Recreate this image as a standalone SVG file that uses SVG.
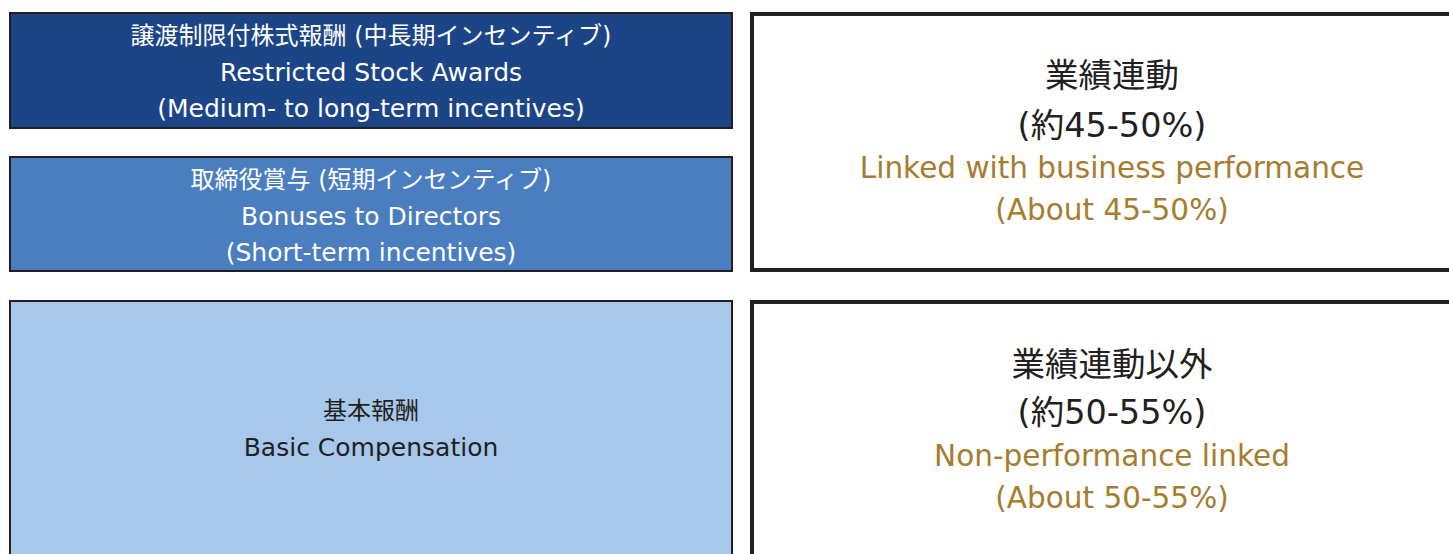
<svg xmlns="http://www.w3.org/2000/svg" width="1449" height="554" viewBox="0 0 1449 554">
<style>
.box{stroke:#231f20;stroke-width:2}
.rbox{fill:#ffffff;stroke:#231f20;stroke-width:4}
text{font-family:"DejaVu Sans","Noto Sans CJK JP",sans-serif;text-anchor:middle}
.w{fill:#ffffff;font-size:25px}
.wj{fill:#ffffff;font-size:24px}
.k{fill:#231f20;font-size:25px}
.kj{fill:#231f20;font-size:24px}
.bk{fill:#231f20;font-size:33.5px}
.gd{fill:#a67c2e;font-size:29.5px}
</style>
<rect width="1449" height="554" fill="#ffffff"/>
<g id="rsa">
<rect class="box" x="10" y="13" width="722" height="115" fill="#1c4588"/>
<text class="wj" x="371" y="44">譲渡制限付株式報酬 (中長期インセンティブ)</text>
<text class="w" x="371" y="81">Restricted Stock Awards</text>
<text class="w" x="371" y="117">(Medium- to long-term incentives)</text>
</g>
<g id="bonus">
<rect class="box" x="10" y="157" width="722" height="114" fill="#4a7ec1"/>
<text class="wj" x="371" y="188">取締役賞与 (短期インセンティブ)</text>
<text class="w" x="371" y="225">Bonuses to Directors</text>
<text class="w" x="371" y="261">(Short-term incentives)</text>
</g>
<g id="basic">
<rect class="box" x="10" y="301" width="722" height="260" fill="#a7c8ea"/>
<text class="kj" x="371" y="419">基本報酬</text>
<text class="k" x="371" y="456">Basic Compensation</text>
</g>
<g id="linked">
<rect class="rbox" x="752" y="14" width="710" height="256"/>
<text class="bk" x="1112" y="87">業績連動</text>
<text class="bk" x="1112" y="137">(約45-50%)</text>
<text class="gd" x="1112" y="178">Linked with business performance</text>
<text class="gd" x="1112" y="220">(About 45-50%)</text>
</g>
<g id="nonlinked">
<rect class="rbox" x="752" y="302" width="710" height="270"/>
<text class="bk" x="1112" y="376">業績連動以外</text>
<text class="bk" x="1112" y="424">(約50-55%)</text>
<text class="gd" x="1112" y="466">Non-performance linked</text>
<text class="gd" x="1112" y="508">(About 50-55%)</text>
</g>
<g id="connectors"/>
</svg>
